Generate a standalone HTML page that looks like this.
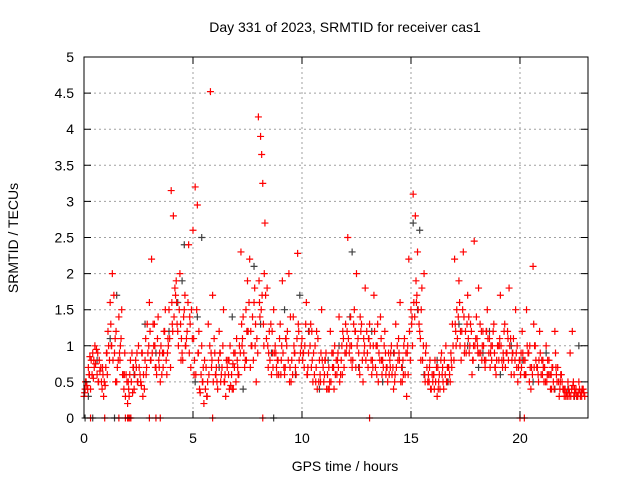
<!DOCTYPE html>
<html><head><meta charset="utf-8"><style>
html,body{margin:0;padding:0;background:#fff;}
svg{display:block;font-family:"Liberation Sans",sans-serif;}
</style></head><body>
<svg id="chart" width="640" height="480">
<text x="345" y="32" text-anchor="middle" font-size="14">Day 331 of 2023, SRMTID for receiver cas1</text>
<text x="0" y="0" transform="translate(18,238) rotate(-90)" text-anchor="middle" font-size="14">SRMTID / TECUs</text>
<text x="345" y="471" text-anchor="middle" font-size="14">GPS time / hours</text>
<g id="grid"></g>
<g id="pts"></g>
<g id="axes"></g>
</svg>
<script>
const xTicks=[0,5,10,15,20];
const yTicks=[0,0.5,1,1.5,2,2.5,3,3.5,4,4.5,5];
const yTickLabels=["0","0.5","1","1.5","2","2.5","3","3.5","4","4.5","5"];
const redTimes=[0.0,0.1,0.2,0.3,0.4,0.5,0.6,0.7,0.8,0.9,1.0,1.1,1.2,1.3,1.4,1.5,1.6,1.7,1.8,1.9,2.0,2.1,2.2,2.3,2.4,2.5,2.6,2.7,2.8,2.9,3.0,3.1,3.2,3.3,3.4,3.5,3.6,3.7,3.8,3.9,4.0,4.1,4.2,4.3,4.4,4.5,4.6,4.7,4.8,4.9,5.0,5.1,5.2,5.3,5.4,5.5,5.6,5.7,5.8,5.9,6.0,6.1,6.2,6.3,6.4,6.5,6.6,6.7,6.8,6.9,7.0,7.1,7.2,7.3,7.4,7.5,7.6,7.7,7.8,7.9,8.0,8.1,8.15,8.2,8.3,8.4,8.5,8.6,8.7,8.8,8.9,9.0,9.1,9.2,9.3,9.4,9.5,9.6,9.7,9.8,10.0,10.1,10.2,10.3,10.4,10.5,10.6,10.7,10.8,10.9,11.0,11.1,11.2,11.3,11.4,11.5,11.6,11.7,11.8,11.9,12.0,12.1,12.2,12.3,12.4,12.5,12.6,12.7,12.8,12.9,13.0,13.1,13.2,13.3,13.4,13.5,13.6,13.7,13.8,13.9,14.0,14.1,14.2,14.3,14.4,14.5,14.6,14.7,14.8,14.9,15.0,15.1,15.2,15.3,15.4,15.5,15.6,15.7,15.8,15.9,16.0,16.1,16.2,16.3,16.4,16.5,16.6,16.7,16.8,16.9,17.0,17.1,17.2,17.3,17.4,17.5,17.6,17.7,17.8,17.9,18.0,18.1,18.2,18.3,18.4,18.5,18.6,18.7,18.8,18.9,19.0,19.1,19.2,19.3,19.4,19.5,19.6,19.7,19.8,19.9,20.0,20.1,20.2,20.3,20.4,20.5,20.6,20.7,20.8,20.9,21.0,21.1,21.2,21.3,21.4,21.5,21.6,21.7,21.8,21.9,22.0,22.1,22.2,22.3,22.4,22.5,22.6,22.7,22.8,22.9];
const redValues=[0.3,0.5,0.7,0.4,0.9,1.0,0.6,0.8,0.5,0.3,0.7,1.2,1.6,2.0,0.9,0.5,1.4,1.1,0.6,0.3,0.2,0.6,0.9,0.4,0.7,1.0,0.5,0.3,0.8,1.3,1.6,2.2,1.0,0.7,1.4,0.5,0.9,1.2,0.6,1.5,3.15,2.8,1.7,1.2,2.0,0.9,1.5,1.1,2.4,0.7,2.6,3.2,2.95,0.4,1.0,0.2,0.7,1.3,4.52,1.7,0.9,0.5,1.2,0.6,1.5,0.3,0.8,1.0,0.4,0.7,1.1,0.6,2.3,1.4,0.8,1.9,2.2,1.0,1.6,0.5,4.17,3.9,3.65,3.25,2.7,1.8,1.2,0.6,1.5,0.9,0.8,1.3,1.9,0.6,1.0,2.0,0.5,1.4,0.7,2.28,1.1,0.7,1.6,0.9,1.3,0.5,1.0,0.4,0.8,1.5,0.5,0.9,0.4,1.2,0.7,1.0,0.6,1.4,0.8,1.1,1.3,2.5,1.0,0.7,1.5,2.0,0.9,1.2,0.5,1.8,0.9,1.3,0.6,1.7,1.0,0.5,1.4,0.8,1.2,0.7,0.6,1.0,0.4,1.3,0.8,1.6,0.5,1.1,0.3,2.2,1.5,3.1,2.8,2.3,1.2,1.8,2.0,1.0,0.6,0.4,0.5,0.8,0.3,0.6,0.9,0.4,1.0,0.7,0.5,1.3,2.2,1.5,1.9,0.8,2.3,1.2,1.7,1.0,0.6,2.45,1.4,1.8,0.9,1.2,0.7,1.5,1.1,0.8,1.3,0.6,1.0,1.7,0.7,1.3,0.9,1.8,0.6,1.1,1.5,0.5,0.8,1.2,0.6,1.5,0.9,0.4,2.1,1.0,0.7,1.2,0.8,0.5,1.0,0.6,0.4,0.7,1.2,0.5,0.3,0.6,0.4,0.3,0.5,0.9,1.2,0.4,0.3,0.5,0.35,0.4];
const redTimes2=[0.05,0.25,0.45,0.65,0.85,1.05,1.25,1.45,1.65,1.85,2.05,2.25,2.45,2.65,2.85,3.05,3.25,3.45,3.65,3.85,4.05,4.25,4.45,4.65,4.85,5.05,5.25,5.45,5.65,5.85,6.05,6.25,6.45,6.65,6.85,7.05,7.25,7.45,7.65,7.85,8.05,8.25,8.45,8.65,8.85,9.05,9.25,9.45,9.65,9.85,10.05,10.25,10.45,10.65,10.85,11.05,11.25,11.45,11.65,11.85,12.05,12.25,12.45,12.65,12.85,13.05,13.25,13.45,13.65,13.85,14.05,14.25,14.45,14.65,14.85,15.05,15.25,15.45,15.65,15.85,16.05,16.25,16.45,16.65,16.85,17.05,17.25,17.45,17.65,17.85,18.05,18.25,18.45,18.65,18.85,19.05,19.25,19.45,19.65,19.85,20.05,20.25,20.45,20.65,20.85,21.05,21.25,21.45,21.65,21.85,22.05,22.25,22.45,22.65,22.85];
const redValues2=[0.4,0.6,0.8,0.5,0.7,0.9,1.0,0.5,0.8,0.6,0.4,0.7,0.5,0.9,0.6,0.8,1.0,0.7,0.9,1.1,1.3,1.6,0.8,1.0,1.4,0.6,0.9,0.5,0.3,0.7,0.6,0.9,0.5,0.8,0.4,0.7,1.0,0.8,1.2,1.0,1.6,1.0,0.7,0.9,0.6,0.8,1.1,0.7,0.9,1.2,0.9,0.6,1.2,0.7,0.5,0.8,0.4,0.7,0.9,0.6,1.0,0.8,1.2,0.6,0.9,1.1,0.7,1.0,0.8,0.6,0.7,0.5,0.9,0.6,1.0,1.4,1.6,0.8,0.5,0.7,0.6,0.4,0.7,0.5,0.8,1.2,1.0,0.9,1.4,0.8,1.0,0.8,1.2,0.9,0.7,1.0,0.8,1.1,0.9,0.7,0.9,0.6,1.0,0.7,0.5,0.8,0.6,0.4,0.7,0.5,0.4,0.3,0.5,0.3,0.4];
const redTimes3=[0.03,0.13,0.23,0.33,0.43,0.53,0.63,0.73,0.83,0.93,1.03,1.13,1.23,1.33,1.43,1.53,1.63,1.73,1.83,1.93,2.03,2.13,2.23,2.33,2.43,2.53,2.63,2.73,2.83,2.93,3.03,3.13,3.23,3.33,3.43,3.53,3.63,3.73,3.83,3.93,4.03,4.13,4.23,4.33,4.43,4.53,4.63,4.73,4.83,4.93,5.03,5.13,5.23,5.33,5.43,5.53,5.63,5.73,5.83,5.93,6.03,6.13,6.23,6.33,6.43,6.53,6.63,6.73,6.83,6.93,7.03,7.13,7.23,7.33,7.43,7.53,7.63,7.73,7.83,7.93,8.03,8.13,8.23,8.33,8.43,8.53,8.63,8.73,8.83,8.93,9.03,9.13,9.23,9.33,9.43,9.53,9.63,9.73,9.83,9.93,10.03,10.13,10.23,10.33,10.43,10.53,10.63,10.73,10.83,10.93,11.03,11.13,11.23,11.33,11.43,11.53,11.63,11.73,11.83,11.93,12.03,12.13,12.23,12.33,12.43,12.53,12.63,12.73,12.83,12.93,13.03,13.13,13.23,13.33,13.43,13.53,13.63,13.73,13.83,13.93,14.03,14.13,14.23,14.33,14.43,14.53,14.63,14.73,14.83,14.93,15.03,15.13,15.23,15.33,15.43,15.53,15.63,15.73,15.83,15.93,16.03,16.13,16.23,16.33,16.43,16.53,16.63,16.73,16.83,16.93,17.03,17.13,17.23,17.33,17.43,17.53,17.63,17.73,17.83,17.93,18.03,18.13,18.23,18.33,18.43,18.53,18.63,18.73,18.83,18.93,19.03,19.13,19.23,19.33,19.43,19.53,19.63,19.73,19.83,19.93,20.03,20.13,20.23,20.33,20.43,20.53,20.63,20.73,20.83,20.93,21.03,21.13,21.23,21.33,21.43,21.53,21.63,21.73,21.83,21.93,22.03,22.13,22.23,22.33,22.43,22.53,22.63,22.73,22.83,22.93];
const redValues3=[0.35,0.45,0.6,0.8,0.55,0.75,0.9,0.65,0.4,0.5,0.9,1.0,1.3,0.8,1.1,0.7,0.9,1.5,0.4,0.6,0.5,0.8,0.35,0.6,0.9,0.7,0.45,0.6,1.1,0.9,1.2,0.9,1.3,0.6,0.8,1.0,0.7,1.5,0.9,1.1,1.6,1.4,1.9,1.0,1.3,0.8,1.7,1.2,0.9,1.5,1.1,0.6,0.9,0.35,0.5,0.8,0.3,0.6,0.9,0.5,0.6,0.4,0.9,0.7,0.5,0.8,0.6,0.45,0.75,0.9,0.8,1.0,1.3,0.9,1.5,1.2,0.7,1.4,1.8,1.1,1.9,1.5,1.3,1.7,1.0,0.8,1.2,0.9,0.7,0.6,0.6,0.9,0.7,1.2,0.5,0.8,1.0,0.6,1.3,0.9,0.8,1.0,0.6,1.2,0.7,0.9,0.5,1.1,0.6,0.8,0.6,0.4,0.7,0.5,0.9,0.6,0.8,0.5,1.0,0.7,0.9,1.1,1.4,0.8,1.2,1.0,0.7,1.3,1.1,0.8,0.7,1.0,0.8,1.2,0.6,0.9,1.1,0.7,0.9,0.5,0.8,0.6,0.9,0.7,1.1,0.5,0.8,0.6,0.9,1.2,1.3,1.6,1.9,1.5,1.1,0.8,0.6,0.7,0.5,0.4,0.6,0.5,0.7,0.4,0.6,0.8,0.5,0.7,0.9,1.0,1.3,1.1,1.6,1.2,1.4,0.9,1.1,1.3,0.8,1.0,1.1,0.9,1.2,1.0,0.8,1.1,0.7,1.0,0.9,0.8,0.8,1.0,0.9,0.7,1.2,1.0,0.8,0.6,0.9,0.7,0.6,0.9,0.8,1.0,0.5,0.7,1.3,0.8,0.6,0.9,0.6,0.7,0.5,0.8,0.6,0.5,0.9,0.7,0.4,0.5,0.3,0.35,0.4,0.3,0.45,0.35,0.3,0.4,0.3,0.35];
const redTimes4=[0.07,0.17,0.27,0.37,0.47,0.57,0.67,0.77,0.87,0.97,1.07,1.17,1.27,1.37,1.47,1.57,1.67,1.77,1.87,1.97,2.07,2.17,2.27,2.37,2.47,2.57,2.67,2.77,2.87,2.97,3.07,3.17,3.27,3.37,3.47,3.57,3.67,3.77,3.87,3.97,4.07,4.17,4.27,4.37,4.47,4.57,4.67,4.77,4.87,4.97,5.07,5.17,5.27,5.37,5.47,5.57,5.67,5.77,5.87,5.97,6.07,6.17,6.27,6.37,6.47,6.57,6.67,6.77,6.87,6.97,7.07,7.17,7.27,7.37,7.47,7.57,7.67,7.77,7.87,7.97,8.07,8.17,8.27,8.37,8.47,8.57,8.67,8.77,8.87,8.97,9.07,9.17,9.27,9.37,9.47,9.57,9.67,9.77,9.87,9.97,10.07,10.17,10.27,10.37,10.47,10.57,10.67,10.77,10.87,10.97,11.07,11.17,11.27,11.37,11.47,11.57,11.67,11.77,11.87,11.97,12.07,12.17,12.27,12.37,12.47,12.57,12.67,12.77,12.87,12.97,13.07,13.17,13.27,13.37,13.47,13.57,13.67,13.77,13.87,13.97,14.07,14.17,14.27,14.37,14.47,14.57,14.67,14.77,14.87,14.97,15.07,15.17,15.27,15.37,15.47,15.57,15.67,15.77,15.87,15.97,16.07,16.17,16.27,16.37,16.47,16.57,16.67,16.77,16.87,16.97,17.07,17.17,17.27,17.37,17.47,17.57,17.67,17.77,17.87,17.97,18.07,18.17,18.27,18.37,18.47,18.57,18.67,18.77,18.87,18.97,19.07,19.17,19.27,19.37,19.47,19.57,19.67,19.77,19.87,19.97,20.07,20.17,20.27,20.37,20.47,20.57,20.67,20.77,20.87,20.97,21.07,21.17,21.27,21.37,21.47,21.57,21.67,21.77,21.87,21.97,22.07,22.17,22.27,22.37,22.47,22.57,22.67,22.77,22.87,22.97];
const redValues4=[0.5,0.4,0.85,0.6,0.7,0.95,0.5,0.7,0.6,0.45,0.6,0.8,1.0,1.7,1.2,0.8,1.0,0.6,0.9,0.5,0.3,0.5,0.7,0.8,0.5,0.6,0.9,0.4,0.7,1.0,0.8,1.3,0.7,1.1,0.9,0.6,1.2,0.8,1.0,0.7,1.2,1.8,1.3,1.5,1.1,1.4,1.0,1.6,1.3,1.1,0.8,1.5,1.2,0.6,0.7,0.4,0.5,1.0,0.8,1.1,0.7,0.8,0.5,1.0,0.6,0.7,0.4,0.6,0.9,0.5,0.6,0.9,1.1,0.7,1.2,1.6,1.0,0.8,1.3,0.9,1.4,1.7,2.0,1.1,0.9,1.3,0.7,1.0,0.8,1.1,1.0,0.7,1.1,0.8,1.4,0.6,0.9,1.1,0.8,1.0,0.9,1.3,0.7,1.0,0.8,0.6,1.2,0.5,0.9,0.7,0.8,0.6,0.5,0.9,0.4,0.8,0.7,0.6,1.2,0.9,1.2,0.9,1.0,1.3,0.7,1.1,1.4,0.8,1.0,1.2,1.1,0.8,1.0,0.7,1.3,0.8,0.6,1.0,0.7,0.9,0.9,0.7,0.6,1.0,0.8,0.7,1.0,0.9,0.6,0.8,1.0,1.4,1.7,1.3,1.5,1.0,0.9,0.5,0.8,0.6,0.4,0.7,0.5,0.8,0.5,0.6,0.7,0.6,0.7,0.8,1.0,1.4,1.2,1.5,1.0,1.3,0.9,1.2,1.0,1.1,0.9,1.3,1.0,0.8,1.2,0.9,1.0,1.2,0.7,1.0,1.1,0.8,1.2,0.9,0.8,1.1,0.9,0.8,1.0,0.8,0.7,0.8,0.6,0.9,0.7,0.6,1.0,0.7,0.8,0.6,0.7,0.5,0.8,0.6,0.7,0.4,0.6,0.5,0.6,0.4,0.4,0.3,0.35,0.4,0.3,0.4,0.35,0.3,0.4,0.3];
const redZeroTimes=[0.3,0.95,1.6,1.9,2.0,2.05,2.1,2.15,3.0,3.3,3.5,5.9,8.2,13.1,20.0,20.2];
const grayTimes=[0.2,0.6,1.2,1.5,2.3,2.8,3.3,3.9,4.3,4.6,5.1,5.4,6.2,6.8,7.3,7.8,8.1,8.6,9.2,9.7,10.3,10.8,11.2,11.7,12.2,12.6,13.2,13.7,14.2,14.6,15.1,15.3,15.6,16.2,16.7,17.2,17.6,18.1,18.6,19.1,19.6,20.1,20.6,21.2,21.6,22.2,22.5,22.7,4.5,5.2,7.5,9.9,12.3,15.4,18.3];
const grayValues=[0.3,0.8,1.1,1.7,0.6,1.3,0.9,1.2,1.6,2.4,0.5,2.5,0.7,1.4,0.4,2.1,1.3,0.9,1.5,0.6,1.2,0.4,0.8,1.0,1.4,0.7,1.2,0.5,0.9,0.7,2.7,1.5,0.6,0.8,0.5,1.3,1.0,0.7,1.2,0.6,1.0,0.8,0.5,0.9,0.4,0.4,0.3,1.0,1.9,1.4,1.2,1.7,2.3,2.6,0.9];
const grayZeroTimes=[0.05,0.4,1.4,8.7];

const NS="http://www.w3.org/2000/svg";
const L=84,R=588,T=57,B=418,XMAX=23.12,YMAX=5;
function xs(t){return L+(R-L)*t/XMAX;}
function ys(v){return B-(B-T)*v/YMAX;}
function mk(tag,attrs,parent){const e=document.createElementNS(NS,tag);for(const k in attrs)e.setAttribute(k,attrs[k]);parent.appendChild(e);return e;}
const grid=document.getElementById('grid'),pts=document.getElementById('pts'),axes=document.getElementById('axes');
yTicks.forEach((v,i)=>{
  const y=ys(v);
  if(i>0&&i<yTicks.length-1){const g=mk('line',{x1:L,x2:R,y1:y,y2:y,stroke:'#a0a0a0','stroke-dasharray':'2,3','stroke-width':1},grid);
  
  }
  const tk=mk('path',{d:`M${L},${y}h7M${R},${y}h-7`,stroke:'#000','stroke-width':1},axes);
  
  
  const tx=mk('text',{x:L-10,y:y+5,'text-anchor':'end','font-size':14},axes);tx.textContent=yTickLabels[i];
  
  
});
xTicks.forEach(t=>{
  const x=xs(t);
  if(t>0){const g=mk('line',{x1:x,x2:x,y1:T,y2:B,stroke:'#a0a0a0','stroke-dasharray':'2,3','stroke-width':1},grid);
  
  }
  const tk=mk('path',{d:`M${x},${B}v-7M${x},${T}v7`,stroke:'#000','stroke-width':1},axes);
  
  
  const tx=mk('text',{x:x,y:B+25,'text-anchor':'middle','font-size':14},axes);tx.textContent=String(t);
  
  
});
const frame=mk('rect',{x:L,y:T,width:R-L,height:B-T,fill:'none',stroke:'#000','stroke-width':1},axes);


function plus(t,v,color,name){
  const x=xs(t),y=ys(v);
  const p=mk('path',{d:`M${x-3.5},${y}h7M${x},${y-3.5}v7`,stroke:color,'stroke-width':1.2,fill:'none'},pts);
  
  
}
grayTimes.forEach((t,i)=>plus(t,grayValues[i],'#404040','gray-point'));
grayZeroTimes.forEach(t=>plus(t,0,'#404040','gray-zero-point'));
redTimes3.forEach((t,i)=>plus(t,redValues3[i],'#ff0000','red-point'));
redTimes4.forEach((t,i)=>plus(t,redValues4[i],'#ff0000','red-point'));
redTimes2.forEach((t,i)=>plus(t,redValues2[i],'#ff0000','red-point'));
redTimes.forEach((t,i)=>plus(t,redValues[i],'#ff0000','red-point'));
redZeroTimes.forEach(t=>plus(t,0,'#ff0000','red-zero-point'));
</script>
</body></html>
